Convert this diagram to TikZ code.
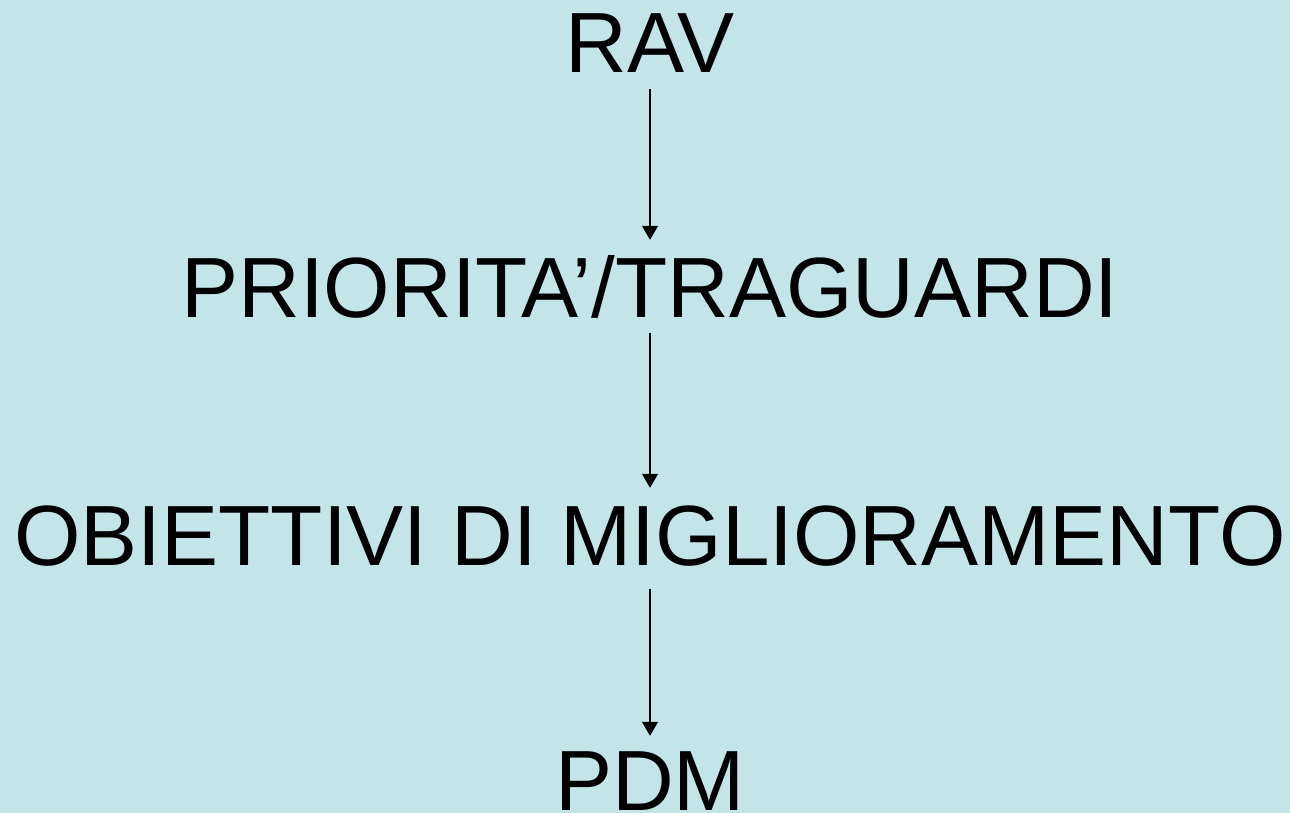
\documentclass[tikz,border=0pt]{standalone}
\usepackage{fontspec}
\setmainfont{Liberation Sans}
\usetikzlibrary{arrows.meta}
\definecolor{bgblue}{RGB}{196,229,232}
\tikzset{
  lbl/.style={font=\fontsize{85.5}{90}\selectfont, text=black, inner xsep=0pt, inner ysep=16pt, text height=61pt, text depth=0pt, anchor=base},
  flow/.style={line width=1.3pt, -{Triangle[width=16pt,length=14pt]}}
}
\begin{document}
\begin{tikzpicture}[x=1pt,y=-1pt]
\fill[bgblue] (0,0) rectangle (1290,813);
\useasboundingbox (0,0) rectangle (1290,813);
\node[lbl] (rav) at (650,73) {RAV};
\node[lbl] (pri) at (650,317) {PRIORITA’/TRAGUARDI};
\node[lbl] (obi) at (650,565) {OBIETTIVI DI MIGLIORAMENTO};
\node[lbl] (pdm) at (650,810) {PDM};
\draw[flow] (rav.south) -- (pri.north);
\draw[flow] (pri.south) -- (obi.north);
\draw[flow, shorten <=8pt, shorten >=-3pt] (obi.south) -- (pdm.north);
\end{tikzpicture}
\end{document}
